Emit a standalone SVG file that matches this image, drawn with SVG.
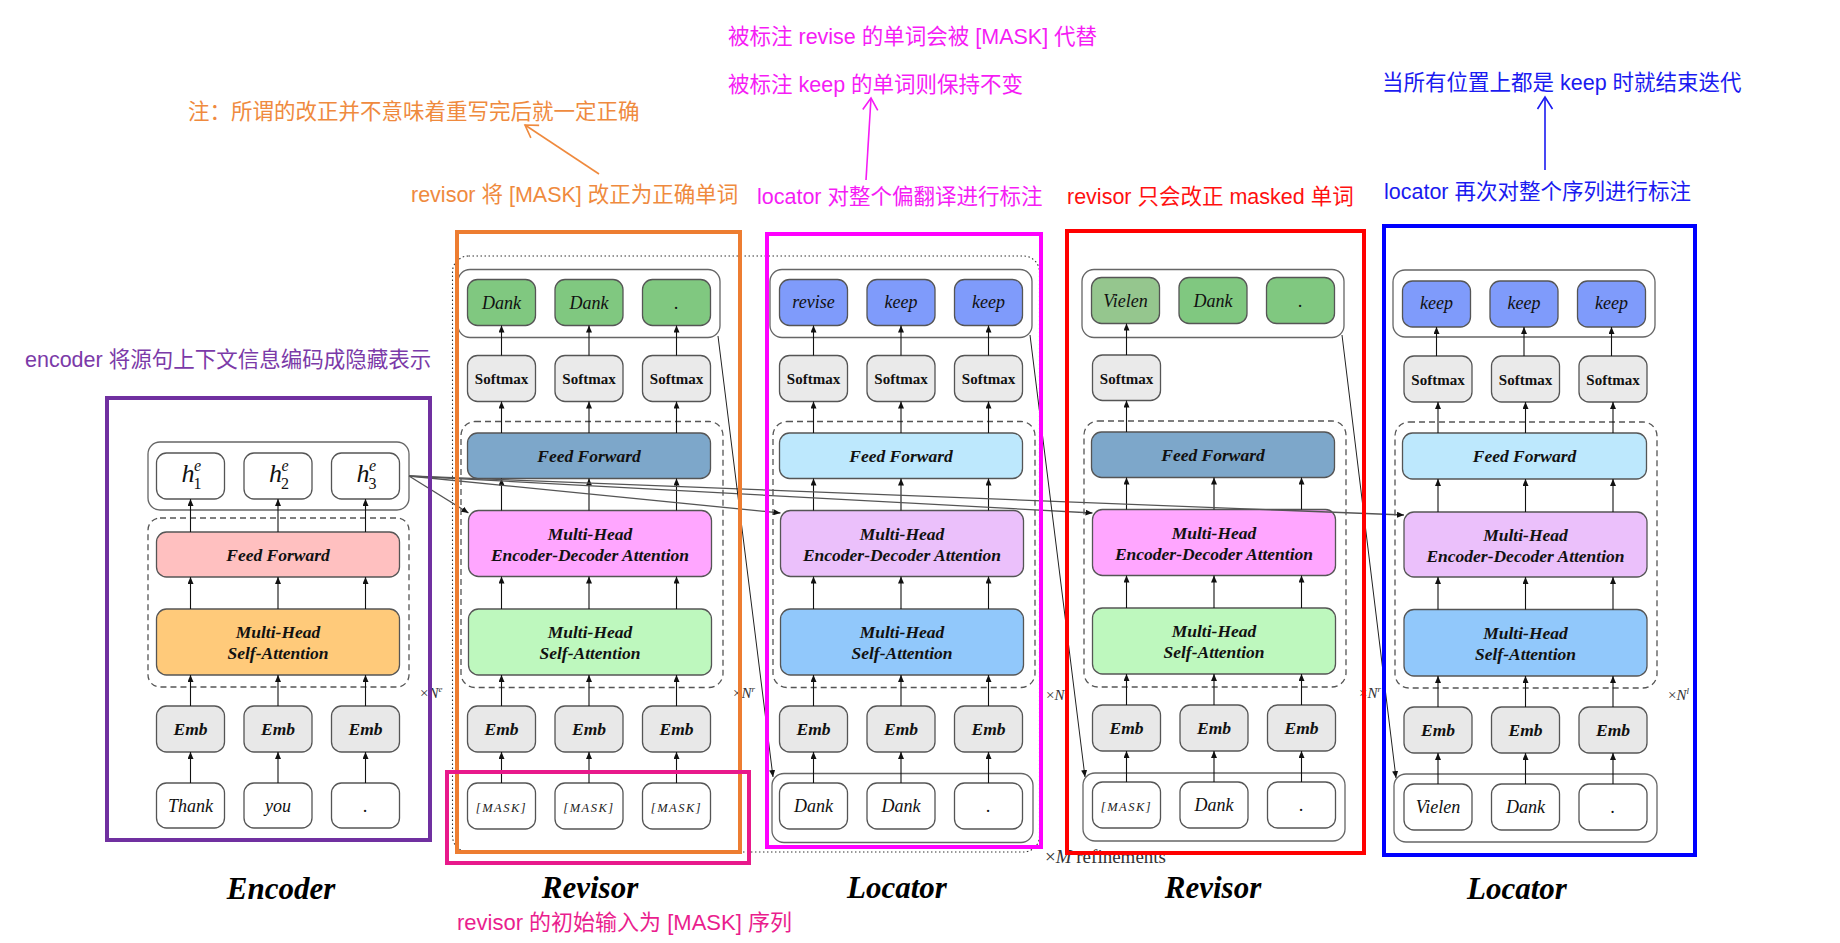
<svg xmlns="http://www.w3.org/2000/svg" width="1840" height="943" viewBox="0 0 1840 943">
<defs>
<marker id="ah" markerUnits="userSpaceOnUse" markerWidth="7" markerHeight="6" refX="7" refY="3" orient="auto"><path d="M0,0 L7,3 L0,6 z" fill="#111"/></marker>
<marker id="ao" markerUnits="userSpaceOnUse" markerWidth="16" markerHeight="18" refX="13" refY="9" orient="auto"><path d="M1,1.5 L13,9 L1,16.5" fill="none" stroke="#EF8A3E" stroke-width="1.6"/></marker>
<marker id="am" markerUnits="userSpaceOnUse" markerWidth="16" markerHeight="18" refX="13" refY="9" orient="auto"><path d="M1,1.5 L13,9 L1,16.5" fill="none" stroke="#F51CF5" stroke-width="1.6"/></marker>
<marker id="ab" markerUnits="userSpaceOnUse" markerWidth="16" markerHeight="18" refX="13" refY="9" orient="auto"><path d="M1,1.5 L13,9 L1,16.5" fill="none" stroke="#1A1AF0" stroke-width="1.6"/></marker>
</defs>
<style>
.bx{stroke:#555;stroke-width:1.3}
.ct{fill:none;stroke:#666;stroke-width:1.3}
.ds{fill:none;stroke:#555;stroke-width:1.3;stroke-dasharray:6 4}
.a{stroke:#111;stroke-width:1.1;marker-end:url(#ah)}
.c{stroke:#555;stroke-width:1.3;fill:none;marker-end:url(#ah)}
.f{stroke:#222;stroke-width:1;fill:none;marker-end:url(#ah)}
.L{font-family:"Liberation Serif",serif;font-weight:bold;font-style:italic;font-size:17.5px;text-anchor:middle;fill:#111}
.S{font-family:"Liberation Serif",serif;font-weight:bold;font-size:15px;text-anchor:middle;fill:#111}
.W{font-family:"Liberation Serif",serif;font-style:italic;font-size:18px;text-anchor:middle;fill:#111}
.K{font-family:"Liberation Serif",serif;font-style:italic;font-size:12.5px;letter-spacing:1.5px;text-anchor:middle;fill:#222}
.T{font-family:"Liberation Serif",serif;font-weight:bold;font-style:italic;font-size:31px;text-anchor:middle;fill:#000}
.N{font-family:"Liberation Serif",serif;font-size:15px;fill:#333}
.Z{font-family:"Liberation Sans","Noto Sans CJK SC",sans-serif;font-size:21.5px;dominant-baseline:central}
.hl{fill:none;stroke-width:4}
.emb{fill:#E8E8E8}
.sm{fill:#EAEAEA}
.wh{fill:#fff}
.gr{fill:#80C880}
.bl{fill:#7F9BFB}
</style>
<rect width="1840" height="943" fill="#fff"/>

<!-- dotted refinement loop -->
<rect x="452.5" y="256" width="587" height="596" rx="16" fill="none" stroke="#333" stroke-width="1.1" stroke-dasharray="1.5 2.5"/>

<!-- ENCODER -->
<g id="encoder">
<g id="enc-out"><rect class="ct" x="148" y="442" width="261" height="68" rx="12"/>
<rect class="bx wh" x="156.5" y="453" width="68" height="46" rx="10"/>
<rect class="bx wh" x="244" y="453" width="68" height="46" rx="10"/>
<rect class="bx wh" x="331.5" y="453" width="68" height="46" rx="10"/>
<g font-family="Liberation Serif,serif" font-style="italic" fill="#111">
<text x="181.5" y="482" font-size="26">h</text><text x="194" y="471" font-size="16">e</text><text x="193.5" y="489" font-size="16" font-style="normal">1</text>
<text x="269" y="482" font-size="26">h</text><text x="281.5" y="471" font-size="16">e</text><text x="281" y="489" font-size="16" font-style="normal">2</text>
<text x="356.5" y="482" font-size="26">h</text><text x="369" y="471" font-size="16">e</text><text x="368.5" y="489" font-size="16" font-style="normal">3</text>
</g></g>
<rect class="ds" x="148" y="518" width="261" height="169" rx="12"/>
<g id="enc-ff"><rect class="bx" fill="#FFC0C0" x="156.5" y="532" width="243" height="45" rx="10"/><text class="L" x="278" y="560.5">Feed Forward</text></g>
<g id="enc-sa"><rect class="bx" fill="#FFCA7A" x="156.5" y="609" width="243" height="66" rx="10"/><text class="L" x="278" y="638">Multi-Head</text><text class="L" x="278" y="659">Self-Attention</text></g>
<g id="enc-emb">
<rect class="bx emb" x="156.5" y="706" width="68" height="46" rx="10"/><text class="L" x="190.5" y="735">Emb</text>
<rect class="bx emb" x="244" y="706" width="68" height="46" rx="10"/><text class="L" x="278" y="735">Emb</text>
<rect class="bx emb" x="331.5" y="706" width="68" height="46" rx="10"/><text class="L" x="365.5" y="735">Emb</text></g>
<g id="enc-in">
<rect class="bx wh" x="156.5" y="783" width="68" height="45" rx="10"/><text class="W" x="190.5" y="812">Thank</text>
<rect class="bx wh" x="244" y="783" width="68" height="45" rx="10"/><text class="W" x="278" y="812">you</text>
<rect class="bx wh" x="331.5" y="783" width="68" height="45" rx="10"/><text class="W" x="365.5" y="812">.</text></g>
<text class="N" x="420" y="698">×<tspan font-style="italic">N</tspan><tspan font-size="9" dy="-6" font-style="italic">e</tspan></text>
<text class="T" x="281" y="899">Encoder</text>
</g>

<!-- REVISOR 1 -->
<g id="revisor1">
<g id="r1-out"><rect class="ct" x="458" y="269.5" width="262" height="68" rx="12"/>
<rect class="bx gr" x="467.5" y="279.5" width="68" height="46" rx="10"/><text class="W" x="501.5" y="308.5">Dank</text>
<rect class="bx gr" x="555" y="279.5" width="68" height="46" rx="10"/><text class="W" x="589" y="308.5">Dank</text>
<rect class="bx gr" x="642.5" y="279.5" width="68" height="46" rx="10"/><text class="W" x="676.5" y="308.5">.</text></g>
<g id="r1-sm">
<rect class="bx sm" x="467.5" y="355.5" width="68" height="46" rx="10"/><text class="S" x="501.5" y="384">Softmax</text>
<rect class="bx sm" x="555" y="355.5" width="68" height="46" rx="10"/><text class="S" x="589" y="384">Softmax</text>
<rect class="bx sm" x="642.5" y="355.5" width="68" height="46" rx="10"/><text class="S" x="676.5" y="384">Softmax</text></g>
<rect class="ds" x="461" y="421.5" width="262" height="266" rx="14"/>
<g id="r1-ff"><rect class="bx" fill="#7DA7CA" x="467.5" y="433" width="243" height="45.5" rx="10"/><text class="L" x="589" y="461.5">Feed Forward</text></g>
<g id="r1-ed"><rect class="bx" fill="#FFA6FF" x="468.5" y="510.5" width="243" height="66" rx="10"/><text class="L" x="590" y="539.5">Multi-Head</text><text class="L" x="590" y="560.5">Encoder-Decoder Attention</text></g>
<g id="r1-sa"><rect class="bx" fill="#BEF8BE" x="468.5" y="609" width="243" height="66" rx="10"/><text class="L" x="590" y="638">Multi-Head</text><text class="L" x="590" y="659">Self-Attention</text></g>
<g id="r1-emb">
<rect class="bx emb" x="467.5" y="706" width="68" height="46" rx="10"/><text class="L" x="501.5" y="735">Emb</text>
<rect class="bx emb" x="555" y="706" width="68" height="46" rx="10"/><text class="L" x="589" y="735">Emb</text>
<rect class="bx emb" x="642.5" y="706" width="68" height="46" rx="10"/><text class="L" x="676.5" y="735">Emb</text></g>
<g id="r1-in">
<rect class="bx wh" x="467.5" y="783" width="68" height="46" rx="10"/><text class="K" x="501.5" y="812">[MASK]</text>
<rect class="bx wh" x="555" y="783" width="68" height="46" rx="10"/><text class="K" x="589" y="812">[MASK]</text>
<rect class="bx wh" x="642.5" y="783" width="68" height="46" rx="10"/><text class="K" x="676.5" y="812">[MASK]</text></g>
<text class="N" x="733" y="698">×<tspan font-style="italic">N</tspan><tspan font-size="9" dy="-6" font-style="italic">r</tspan></text>
<text class="T" x="590" y="898">Revisor</text>
</g>

<!-- LOCATOR 1 -->
<g id="locator1">
<g id="l1-out"><rect class="ct" x="770" y="269.5" width="262" height="68" rx="12"/>
<rect class="bx bl" x="779.5" y="279.5" width="68" height="46" rx="10"/><text class="W" x="813.5" y="307.5">revise</text>
<rect class="bx bl" x="867" y="279.5" width="68" height="46" rx="10"/><text class="W" x="901" y="307.5">keep</text>
<rect class="bx bl" x="954.5" y="279.5" width="68" height="46" rx="10"/><text class="W" x="988.5" y="307.5">keep</text></g>
<g id="l1-sm">
<rect class="bx sm" x="779.5" y="355.5" width="68" height="46" rx="10"/><text class="S" x="813.5" y="384">Softmax</text>
<rect class="bx sm" x="867" y="355.5" width="68" height="46" rx="10"/><text class="S" x="901" y="384">Softmax</text>
<rect class="bx sm" x="954.5" y="355.5" width="68" height="46" rx="10"/><text class="S" x="988.5" y="384">Softmax</text></g>
<rect class="ds" x="773" y="421.5" width="262" height="266" rx="14"/>
<g id="l1-ff"><rect class="bx" fill="#BDE8FD" x="779.5" y="433" width="243" height="45.5" rx="10"/><text class="L" x="901" y="461.5">Feed Forward</text></g>
<g id="l1-ed"><rect class="bx" fill="#EBC0FB" x="780.5" y="510.5" width="243" height="66" rx="10"/><text class="L" x="902" y="539.5">Multi-Head</text><text class="L" x="902" y="560.5">Encoder-Decoder Attention</text></g>
<g id="l1-sa"><rect class="bx" fill="#91C8FB" x="780.5" y="609" width="243" height="66" rx="10"/><text class="L" x="902" y="638">Multi-Head</text><text class="L" x="902" y="659">Self-Attention</text></g>
<g id="l1-emb">
<rect class="bx emb" x="779.5" y="706" width="68" height="46" rx="10"/><text class="L" x="813.5" y="735">Emb</text>
<rect class="bx emb" x="867" y="706" width="68" height="46" rx="10"/><text class="L" x="901" y="735">Emb</text>
<rect class="bx emb" x="954.5" y="706" width="68" height="46" rx="10"/><text class="L" x="988.5" y="735">Emb</text></g>
<g id="l1-in"><rect class="ct" x="772" y="773.5" width="261" height="69" rx="12"/>
<rect class="bx wh" x="779.5" y="783" width="68" height="46" rx="10"/><text class="W" x="813.5" y="812">Dank</text>
<rect class="bx wh" x="867" y="783" width="68" height="46" rx="10"/><text class="W" x="901" y="812">Dank</text>
<rect class="bx wh" x="954.5" y="783" width="68" height="46" rx="10"/><text class="W" x="988.5" y="812">.</text></g>
<text class="N" x="1046" y="700">×<tspan font-style="italic">N</tspan><tspan font-size="9" dy="-6" font-style="italic">l</tspan></text>
<text class="T" x="897" y="898">Locator</text>
</g>

<!-- REVISOR 2 -->
<g id="revisor2">
<g id="r2-out"><rect class="ct" x="1082" y="269.5" width="262" height="68" rx="12"/>
<rect class="bx" fill="#95C68E" x="1091.5" y="277.5" width="68" height="46" rx="10"/><text class="W" x="1125.5" y="306.5">Vielen</text>
<rect class="bx gr" x="1179" y="277.5" width="68" height="46" rx="10"/><text class="W" x="1213" y="306.5">Dank</text>
<rect class="bx gr" x="1266.5" y="277.5" width="68" height="46" rx="10"/><text class="W" x="1300.5" y="306.5">.</text></g>
<g id="r2-sm"><rect class="bx sm" x="1092.5" y="355" width="68" height="45.5" rx="10"/><text class="S" x="1126.5" y="383.5">Softmax</text></g>
<rect class="ds" x="1084" y="421" width="262" height="266" rx="14"/>
<g id="r2-ff"><rect class="bx" fill="#7DA7CA" x="1091.5" y="432" width="243" height="45.5" rx="10"/><text class="L" x="1213" y="460.5">Feed Forward</text></g>
<g id="r2-ed"><rect class="bx" fill="#FFA6FF" x="1092.5" y="509.5" width="243" height="66" rx="10"/><text class="L" x="1214" y="538.5">Multi-Head</text><text class="L" x="1214" y="559.5">Encoder-Decoder Attention</text></g>
<g id="r2-sa"><rect class="bx" fill="#BEF8BE" x="1092.5" y="608" width="243" height="66" rx="10"/><text class="L" x="1214" y="637">Multi-Head</text><text class="L" x="1214" y="658">Self-Attention</text></g>
<g id="r2-emb">
<rect class="bx emb" x="1092.5" y="705" width="68" height="46" rx="10"/><text class="L" x="1126.5" y="734">Emb</text>
<rect class="bx emb" x="1180" y="705" width="68" height="46" rx="10"/><text class="L" x="1214" y="734">Emb</text>
<rect class="bx emb" x="1267.5" y="705" width="68" height="46" rx="10"/><text class="L" x="1301.5" y="734">Emb</text></g>
<g id="r2-in"><rect class="ct" x="1083" y="773" width="262" height="68" rx="12"/>
<rect class="bx wh" x="1092.5" y="782" width="68" height="46" rx="10"/><text class="K" x="1126.5" y="811">[MASK]</text>
<rect class="bx wh" x="1180" y="782" width="68" height="46" rx="10"/><text class="W" x="1214" y="811">Dank</text>
<rect class="bx wh" x="1267.5" y="782" width="68" height="46" rx="10"/><text class="W" x="1301.5" y="811">.</text></g>
<text class="N" x="1359" y="698">×<tspan font-style="italic">N</tspan><tspan font-size="9" dy="-6" font-style="italic">r</tspan></text>
<text class="T" x="1213" y="898">Revisor</text>
</g>

<!-- LOCATOR 2 -->
<g id="locator2">
<g id="l2-out"><rect class="ct" x="1393" y="270" width="262" height="67" rx="12"/>
<rect class="bx bl" x="1402.5" y="281" width="68" height="46" rx="10"/><text class="W" x="1436.5" y="309">keep</text>
<rect class="bx bl" x="1490" y="281" width="68" height="46" rx="10"/><text class="W" x="1524" y="309">keep</text>
<rect class="bx bl" x="1577.5" y="281" width="68" height="46" rx="10"/><text class="W" x="1611.5" y="309">keep</text></g>
<g id="l2-sm">
<rect class="bx sm" x="1404" y="356" width="68" height="46" rx="10"/><text class="S" x="1438" y="384.5">Softmax</text>
<rect class="bx sm" x="1491.5" y="356" width="68" height="46" rx="10"/><text class="S" x="1525.5" y="384.5">Softmax</text>
<rect class="bx sm" x="1579" y="356" width="68" height="46" rx="10"/><text class="S" x="1613" y="384.5">Softmax</text></g>
<rect class="ds" x="1395" y="422" width="262" height="266" rx="14"/>
<g id="l2-ff"><rect class="bx" fill="#BDE8FD" x="1402.5" y="433" width="244" height="46" rx="10"/><text class="L" x="1524.5" y="461.5">Feed Forward</text></g>
<g id="l2-ed"><rect class="bx" fill="#EBC0FB" x="1404" y="512" width="243" height="65" rx="10"/><text class="L" x="1525.5" y="540.5">Multi-Head</text><text class="L" x="1525.5" y="561.5">Encoder-Decoder Attention</text></g>
<g id="l2-sa"><rect class="bx" fill="#91C8FB" x="1404" y="609.5" width="243" height="66.5" rx="10"/><text class="L" x="1525.5" y="638.5">Multi-Head</text><text class="L" x="1525.5" y="659.5">Self-Attention</text></g>
<g id="l2-emb">
<rect class="bx emb" x="1404" y="707" width="68" height="46" rx="10"/><text class="L" x="1438" y="736">Emb</text>
<rect class="bx emb" x="1491.5" y="707" width="68" height="46" rx="10"/><text class="L" x="1525.5" y="736">Emb</text>
<rect class="bx emb" x="1579" y="707" width="68" height="46" rx="10"/><text class="L" x="1613" y="736">Emb</text></g>
<g id="l2-in"><rect class="ct" x="1394" y="774" width="263" height="68" rx="12"/>
<rect class="bx wh" x="1404" y="784" width="68" height="46" rx="10"/><text class="W" x="1438" y="813">Vielen</text>
<rect class="bx wh" x="1491.5" y="784" width="68" height="46" rx="10"/><text class="W" x="1525.5" y="813" fill="#555">Dank</text>
<rect class="bx wh" x="1579" y="784" width="68" height="46" rx="10"/><text class="W" x="1613" y="813">.</text></g>
<text class="N" x="1668" y="700">×<tspan font-style="italic">N</tspan><tspan font-size="9" dy="-6" font-style="italic">l</tspan></text>
<text class="T" x="1517" y="899">Locator</text>
</g>

<text x="1045" y="863" font-family="Liberation Serif,serif" font-size="19" fill="#333">×<tspan font-style="italic">M</tspan> refinements</text>

<!-- CONNECTORS -->
<g id="connectors">
<line class="a" x1="190.5" y1="783" x2="190.5" y2="752"/><line class="a" x1="278" y1="783" x2="278" y2="752"/><line class="a" x1="365.5" y1="783" x2="365.5" y2="752"/>
<line class="a" x1="190.5" y1="706" x2="190.5" y2="675"/><line class="a" x1="278" y1="706" x2="278" y2="675"/><line class="a" x1="365.5" y1="706" x2="365.5" y2="675"/>
<line class="a" x1="190.5" y1="609" x2="190.5" y2="577"/><line class="a" x1="278" y1="609" x2="278" y2="577"/><line class="a" x1="365.5" y1="609" x2="365.5" y2="577"/>
<line class="a" x1="190.5" y1="532" x2="190.5" y2="499"/><line class="a" x1="278" y1="532" x2="278" y2="499"/><line class="a" x1="365.5" y1="532" x2="365.5" y2="499"/>
<line class="a" x1="501.5" y1="783" x2="501.5" y2="752"/><line class="a" x1="589" y1="783" x2="589" y2="752"/><line class="a" x1="676.5" y1="783" x2="676.5" y2="752"/>
<line class="a" x1="501.5" y1="706" x2="501.5" y2="675"/><line class="a" x1="589" y1="706" x2="589" y2="675"/><line class="a" x1="676.5" y1="706" x2="676.5" y2="675"/>
<line class="a" x1="501.5" y1="609" x2="501.5" y2="576.5"/><line class="a" x1="589" y1="609" x2="589" y2="576.5"/><line class="a" x1="676.5" y1="609" x2="676.5" y2="576.5"/>
<line class="a" x1="501.5" y1="510.5" x2="501.5" y2="478.5"/><line class="a" x1="589" y1="510.5" x2="589" y2="478.5"/><line class="a" x1="676.5" y1="510.5" x2="676.5" y2="478.5"/>
<line class="a" x1="501.5" y1="433" x2="501.5" y2="401.5"/><line class="a" x1="589" y1="433" x2="589" y2="401.5"/><line class="a" x1="676.5" y1="433" x2="676.5" y2="401.5"/>
<line class="a" x1="501.5" y1="355.5" x2="501.5" y2="325.5"/><line class="a" x1="589" y1="355.5" x2="589" y2="325.5"/><line class="a" x1="676.5" y1="355.5" x2="676.5" y2="325.5"/>
<line class="a" x1="813.5" y1="783" x2="813.5" y2="752"/><line class="a" x1="901" y1="783" x2="901" y2="752"/><line class="a" x1="988.5" y1="783" x2="988.5" y2="752"/>
<line class="a" x1="813.5" y1="706" x2="813.5" y2="675"/><line class="a" x1="901" y1="706" x2="901" y2="675"/><line class="a" x1="988.5" y1="706" x2="988.5" y2="675"/>
<line class="a" x1="813.5" y1="609" x2="813.5" y2="576.5"/><line class="a" x1="901" y1="609" x2="901" y2="576.5"/><line class="a" x1="988.5" y1="609" x2="988.5" y2="576.5"/>
<line class="a" x1="813.5" y1="510.5" x2="813.5" y2="478.5"/><line class="a" x1="901" y1="510.5" x2="901" y2="478.5"/><line class="a" x1="988.5" y1="510.5" x2="988.5" y2="478.5"/>
<line class="a" x1="813.5" y1="433" x2="813.5" y2="401.5"/><line class="a" x1="901" y1="433" x2="901" y2="401.5"/><line class="a" x1="988.5" y1="433" x2="988.5" y2="401.5"/>
<line class="a" x1="813.5" y1="355.5" x2="813.5" y2="325.5"/><line class="a" x1="901" y1="355.5" x2="901" y2="325.5"/><line class="a" x1="988.5" y1="355.5" x2="988.5" y2="325.5"/>
<line class="a" x1="1126.5" y1="782" x2="1126.5" y2="751"/><line class="a" x1="1214" y1="782" x2="1214" y2="751"/><line class="a" x1="1301.5" y1="782" x2="1301.5" y2="751"/>
<line class="a" x1="1126.5" y1="705" x2="1126.5" y2="674"/><line class="a" x1="1214" y1="705" x2="1214" y2="674"/><line class="a" x1="1301.5" y1="705" x2="1301.5" y2="674"/>
<line class="a" x1="1126.5" y1="608" x2="1126.5" y2="575.5"/><line class="a" x1="1214" y1="608" x2="1214" y2="575.5"/><line class="a" x1="1301.5" y1="608" x2="1301.5" y2="575.5"/>
<line class="a" x1="1126.5" y1="509.5" x2="1126.5" y2="477.5"/><line class="a" x1="1214" y1="509.5" x2="1214" y2="477.5"/><line class="a" x1="1301.5" y1="509.5" x2="1301.5" y2="477.5"/>
<line class="a" x1="1126.5" y1="432" x2="1126.5" y2="400.5"/>
<line class="a" x1="1126.5" y1="355" x2="1126.5" y2="323.5"/>
<line class="a" x1="1438" y1="784" x2="1438" y2="753"/><line class="a" x1="1525.5" y1="784" x2="1525.5" y2="753"/><line class="a" x1="1613" y1="784" x2="1613" y2="753"/>
<line class="a" x1="1438" y1="707" x2="1438" y2="676"/><line class="a" x1="1525.5" y1="707" x2="1525.5" y2="676"/><line class="a" x1="1613" y1="707" x2="1613" y2="676"/>
<line class="a" x1="1438" y1="609.5" x2="1438" y2="577"/><line class="a" x1="1525.5" y1="609.5" x2="1525.5" y2="577"/><line class="a" x1="1613" y1="609.5" x2="1613" y2="577"/>
<line class="a" x1="1438" y1="512" x2="1438" y2="479"/><line class="a" x1="1525.5" y1="512" x2="1525.5" y2="479"/><line class="a" x1="1613" y1="512" x2="1613" y2="479"/>
<line class="a" x1="1438" y1="433" x2="1438" y2="402"/><line class="a" x1="1525.5" y1="433" x2="1525.5" y2="402"/><line class="a" x1="1613" y1="433" x2="1613" y2="402"/>
<line class="a" x1="1436.5" y1="356" x2="1436.5" y2="327"/><line class="a" x1="1524" y1="356" x2="1524" y2="327"/><line class="a" x1="1611.5" y1="356" x2="1611.5" y2="327"/>
<line class="c" x1="409" y1="476" x2="468.5" y2="513"/>
<line class="c" x1="409" y1="476" x2="780.5" y2="513"/>
<line class="c" x1="409" y1="476" x2="1092.5" y2="513"/>
<line class="c" x1="409" y1="476" x2="1404" y2="515"/>
<line class="f" x1="718" y1="336" x2="773" y2="777"/>
<line class="f" x1="1030" y1="335" x2="1085" y2="777"/>
<line class="f" x1="1342" y1="335" x2="1396" y2="778"/>
</g>

<!-- ANNOTATIONS -->
<g id="annotations">
<text class="Z" x="188" y="112" fill="#EF8A3E">注：所谓的改正并不意味着重写完后就一定正确</text>
<line x1="599" y1="174" x2="525" y2="125" stroke="#EF8A3E" stroke-width="1.6" marker-end="url(#ao)"/>
<text class="Z" x="411" y="195" fill="#EF8A3E">revisor 将 [MASK] 改正为正确单词</text>
<text class="Z" x="728" y="37" fill="#F51CF5">被标注 revise 的单词会被 [MASK] 代替</text>
<text class="Z" x="728" y="85" fill="#F51CF5">被标注 keep 的单词则保持不变</text>
<line x1="866" y1="180" x2="871" y2="98" stroke="#F51CF5" stroke-width="1.6" marker-end="url(#am)"/>
<text class="Z" x="757" y="197" fill="#F51CF5">locator 对整个偏翻译进行标注</text>
<text class="Z" x="1067" y="197" fill="#FF1010">revisor 只会改正 masked 单词</text>
<text class="Z" x="1382" y="83" fill="#1A1AF0">当所有位置上都是 keep 时就结束迭代</text>
<line x1="1545" y1="170" x2="1545" y2="97" stroke="#1A1AF0" stroke-width="1.6" marker-end="url(#ab)"/>
<text class="Z" x="1384" y="192" fill="#1A1AF0">locator 再次对整个序列进行标注</text>
<text class="Z" x="25" y="360" fill="#7B3AA8" style="font-size:21.5px">encoder 将源句上下文信息编码成隐藏表示</text>
<text class="Z" x="457" y="922" fill="#EA1E8E" style="font-size:22px">revisor 的初始输入为 [MASK] 序列</text>
</g>

<!-- HIGHLIGHT FRAMES -->
<g id="highlights">
<rect class="hl" stroke="#7030A0" x="107" y="398" width="323" height="442"/>
<rect class="hl" stroke="#ED7D31" x="457" y="232" width="283" height="620"/>
<rect class="hl" stroke="#FF00FF" x="767" y="234" width="274" height="613"/>
<rect class="hl" stroke="#FF0000" x="1067" y="231" width="297" height="622"/>
<rect class="hl" stroke="#0000FF" x="1384" y="226" width="311" height="629"/>
<rect class="hl" stroke="#E8198B" x="447" y="772" width="302" height="91"/>
</g>
</svg>
